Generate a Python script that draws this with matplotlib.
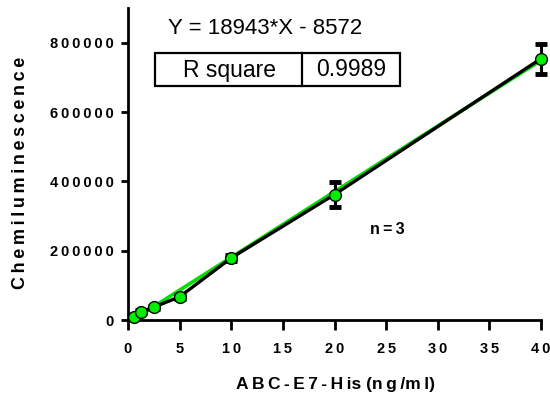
import matplotlib
matplotlib.use("Agg")
import matplotlib.pyplot as plt
from matplotlib.patches import Rectangle
from matplotlib.lines import Line2D
import numpy as np

# ---- data ----
conc = [0.625, 1.25, 2.5, 5, 10, 20, 40]
signal = [10000, 24000, 37000, 67000, 179000, 362000, 754000]
sd = [3000, 4000, 4000, 6000, 8000, 35000, 43000]
slope = 18943
intercept = -8572
r_square = "0.9989"
xticks = [0, 5, 10, 15, 20, 25, 30, 35, 40]
yticks = [0, 200000, 400000, 600000, 800000]

plt.rcParams['font.family'] = ['Liberation Sans', 'DejaVu Sans']

W, H = 550, 400
fig = plt.figure(figsize=(5.5, 4.0), dpi=100)
fx = lambda px: px / W
fy = lambda py: 1 - py / H

ax = fig.add_axes([fx(128), fy(320), fx(541) - fx(128), fy(8) - fy(320)])
ax.set_xlim(0, 40)
ax.set_ylim(0, 900000)

# fit line (green) behind
xf = np.array([conc[0], conc[-1]])
ax.plot(xf, slope * xf + intercept, color='#00dd00', lw=2.6, zorder=2, clip_on=False)
# connecting line (black)
ax.plot(conc, signal, color='black', lw=2.4, zorder=3, clip_on=False)
# error bars
ax.errorbar(conc, signal, yerr=sd, fmt='none', ecolor='black', elinewidth=2.2,
            capsize=4, capthick=3.5, zorder=4, clip_on=False)
# markers
ax.plot(conc, signal, 'o', ms=8.5, mfc='#00ee00', mec='black', mew=1.0,
        zorder=5, clip_on=False, ls='none')

for s in ['top', 'right']:
    ax.spines[s].set_visible(False)
for s in ['left', 'bottom']:
    ax.spines[s].set_linewidth(2.0)

TS = '\u2009'

def spaced(s):
    return TS.join(s)

ax.set_xticks(xticks)
ax.set_xticklabels([spaced(str(t)) for t in xticks], fontweight='bold', fontsize=10.5)
ax.set_yticks(yticks)
ax.set_yticklabels([spaced(str(t)) for t in yticks], fontweight='bold', fontsize=10.5)
ax.tick_params(axis='x', length=7, width=2.0, pad=8.5)
ax.tick_params(axis='y', length=5, width=2.0, pad=5)

fig.text(fx(21), fy(173), spaced('Chemiluminescence'), rotation=90,
         ha='center', va='center', fontweight='bold', fontsize=13)
xlab = TS.join(['A', 'B', 'C', '-', 'E', '7', '-', 'H', 'is']) + ' ' + \
       TS.join(['(n', 'g', '/m', 'l)'])
fig.text(fx(335), fy(385), xlab,
         ha='center', va='center', fontweight='bold', fontsize=12.5)

fig.text(fx(387), fy(229), TS.join(['n', '=', '3']), ha='center', va='center',
         fontweight='bold', fontsize=11.5)

fig.text(fx(265), fy(29), 'Y = %d*X - %d' % (slope, -intercept), ha='center',
         va='center', fontsize=16)

# R square table
fig.patches.append(Rectangle((fx(155), fy(86)), fx(400) - fx(155), fy(53) - fy(86),
                             transform=fig.transFigure, fill=False, lw=1.6,
                             edgecolor='black'))
fig.lines.append(Line2D([fx(302), fx(302)], [fy(86), fy(53)],
                        transform=fig.transFigure, color='black', lw=1.6))
fig.text(fx(230), fy(70), 'R square', ha='center', va='center', fontsize=16.5)
fig.text(fx(351), fy(70), r_square, ha='center', va='center', fontsize=16.5)

fig.savefig('out.png', dpi=100)
